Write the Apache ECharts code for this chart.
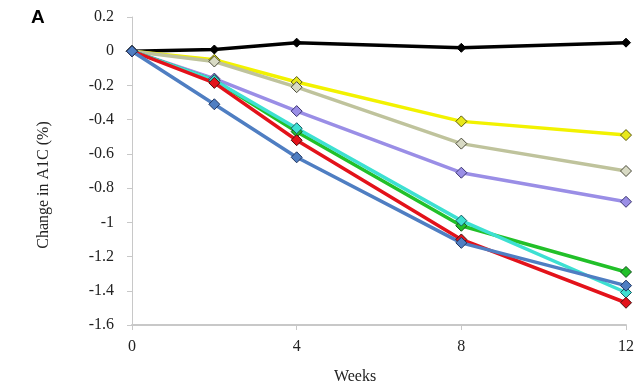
<!DOCTYPE html>
<html lang="en">
<head>
  <meta charset="UTF-8">
  <title>Change in A1C</title>
  <script src="https://cdn.jsdelivr.net/npm/echarts@6/dist/echarts.min.js"></script>
  <style>
    html, body { margin: 0; padding: 0; background: #fff; }
    #container { width: 641px; height: 390px; }
  </style>
</head>
<body>
  <div id="container"></div>
  <script>
    // weeks at which A1C was measured
    const weeks = [0, 2, 4, 8, 12];

    // change in A1C (%) for each group
    const blackVals  = [0, 0.01, 0.05, 0.02, 0.05];
    const yellowVals = [0, -0.05, -0.18, -0.41, -0.49];
    const khakiVals  = [0, -0.06, -0.21, -0.54, -0.70];
    const purpleVals = [0, -0.16, -0.35, -0.71, -0.88];
    const greenVals  = [0, -0.17, -0.47, -1.02, -1.29];
    const cyanVals   = [0, -0.17, -0.45, -0.99, -1.41];
    const redVals    = [0, -0.185, -0.52, -1.10, -1.47];
    const blueVals   = [0, -0.31, -0.62, -1.12, -1.37];

    const yTicks = [0.2, 0, -0.2, -0.4, -0.6, -0.8, -1, -1.2, -1.4, -1.6];
    const xTicks = [0, 4, 8, 12];

    const serif = '"Liberation Serif", "DejaVu Serif", serif';

    function line(name, vals, color, markFill, markBorder, size) {
      return {
        name: name,
        type: 'line',
        data: weeks.map((w, i) => [w, vals[i]]),
        symbol: 'diamond',
        symbolSize: size || 11,
        lineStyle: { color: color, width: 3.5 },
        itemStyle: { color: markFill, borderColor: markBorder, borderWidth: 1 },
        emphasis: { disabled: true },
        animation: false
      };
    }

    const chart = echarts.init(document.getElementById('container'));
    chart.setOption({
      backgroundColor: '#fff',
      grid: { left: 132, right: 15, top: 17, bottom: 64 },
      graphic: [{
        type: 'text',
        left: 31, top: 8,
        style: { text: 'A', font: 'bold 19px "Liberation Sans", Arial, sans-serif', fill: '#000' }
      }],
      xAxis: {
        type: 'value',
        min: 0, max: 12, interval: 4,
        name: 'Weeks',
        nameLocation: 'middle',
        nameGap: 44,
        nameTextStyle: { fontFamily: serif, fontSize: 16, color: '#222', padding: [0, 48, 0, 0] },
        axisLine: { show: true, onZero: false, lineStyle: { color: '#c8c8c8', width: 2 } },
        axisTick: { show: true, length: 5, lineStyle: { color: '#c8c8c8' } },
        axisLabel: {
          fontFamily: serif, fontSize: 16, color: '#222', margin: 14,
          formatter: v => xTicks.includes(v) ? String(v) : ''
        },
        splitLine: { show: false }
      },
      yAxis: {
        type: 'value',
        min: -1.6, max: 0.2, interval: 0.2,
        name: 'Change in A1C (%)',
        nameLocation: 'middle',
        nameGap: 80,
        nameTextStyle: { fontFamily: serif, fontSize: 16, color: '#222', padding: [0, 28, 0, 0] },
        axisLine: { show: true, onZero: false, lineStyle: { color: '#c8c8c8', width: 1 } },
        axisTick: { show: true, length: 5, lineStyle: { color: '#c8c8c8' } },
        axisLabel: {
          fontFamily: serif, fontSize: 16, color: '#222', margin: 18,
          formatter: v => {
            const t = yTicks.find(k => Math.abs(k - v) < 1e-6);
            return t === undefined ? '' : String(t);
          }
        },
        splitLine: { show: false }
      },
      series: [
        line('Black', blackVals, '#000000', '#000000', '#000000', 9),
        line('Yellow', yellowVals, '#f2f200', '#e8e81a', '#5a5a10'),
        line('Khaki', khakiVals, '#bfc39c', '#d8dac4', '#4a4a3a'),
        line('Purple', purpleVals, '#9a8ee6', '#9a8ee6', '#3a3470'),
        line('Green', greenVals, '#22c029', '#22c029', '#10501a'),
        line('Cyan', cyanVals, '#3de0d2', '#3de0d2', '#1a5a60'),
        line('Red', redVals, '#e3121a', '#e3121a', '#4a1010'),
        line('Blue', blueVals, '#4f7ec2', '#4f7ec2', '#1f3560')
      ]
    });
  </script>
</body>
</html>
